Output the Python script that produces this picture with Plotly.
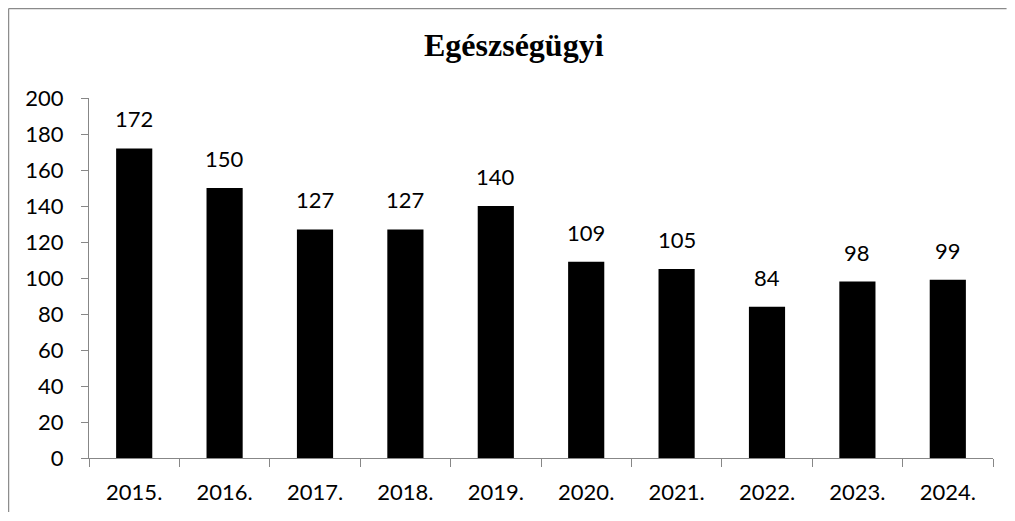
import plotly.graph_objects as go

years = ["2015.", "2016.", "2017.", "2018.", "2019.", "2020.", "2021.", "2022.", "2023.", "2024."]
values = [172, 150, 127, 127, 140, 109, 105, 84, 98, 99]
y_ticks = [0, 20, 40, 60, 80, 100, 120, 140, 160, 180, 200]

axis_color = "#878787"
label_font = dict(family="Lato, Carlito, Liberation Sans, sans-serif", size=22, color="#000000")

fig = go.Figure(go.Bar(x=years, y=values, marker=dict(color="#000000", line=dict(width=0)), width=0.4))

for i, v in enumerate(values):
    fig.add_annotation(x=i, y=v, text=str(v), showarrow=False, yanchor="bottom",
                       yshift=14, font=label_font)

fig.add_annotation(xref="paper", yref="paper", x=0.47, y=1.0, yanchor="bottom", yshift=33,
                   text="<b>Egészségügyi</b>", showarrow=False,
                   font=dict(family="Liberation Serif, Times New Roman, serif", size=32, color="#000000"))

# outer chart border: only the left and top edges are visible in the view (kept inside the figure)
border = dict(color="#8a8a8a", width=1.2)
fig.add_shape(type="line", xref="paper", yref="paper", x0=-0.0889, x1=-0.0889, y0=-0.15, y1=1.2485,
              line=border, layer="below")
fig.add_shape(type="line", xref="paper", yref="paper", x0=-0.0889, x1=1.015, y0=1.2485, y1=1.2485,
              line=border, layer="below")

# page has an 8px body margin, so the figure is offset accordingly
fig.update_layout(
    width=999, height=505,
    margin=dict(l=81, r=14, t=90, b=55),
    paper_bgcolor="white", plot_bgcolor="white",
    showlegend=False,
    bargap=0.6,
    font=label_font,
)
fig.update_xaxes(type="category", range=[-0.5, 9.5], showline=True, linecolor=axis_color, linewidth=1.3,
                 ticks="outside", ticklen=8, tickcolor=axis_color, tickwidth=1.3, tickson="boundaries",
                 showgrid=False, tickfont=label_font, ticklabelstandoff=14, tickangle=0, automargin=False)
fig.update_yaxes(range=[0, 200], tickvals=y_ticks, showline=True, linecolor=axis_color, linewidth=1.3,
                 ticks="outside", ticklen=7, tickcolor=axis_color, tickwidth=1.3, showgrid=False,
                 zeroline=False, tickfont=label_font, ticklabelstandoff=13, automargin=False)

fig.write_html("out.html")
